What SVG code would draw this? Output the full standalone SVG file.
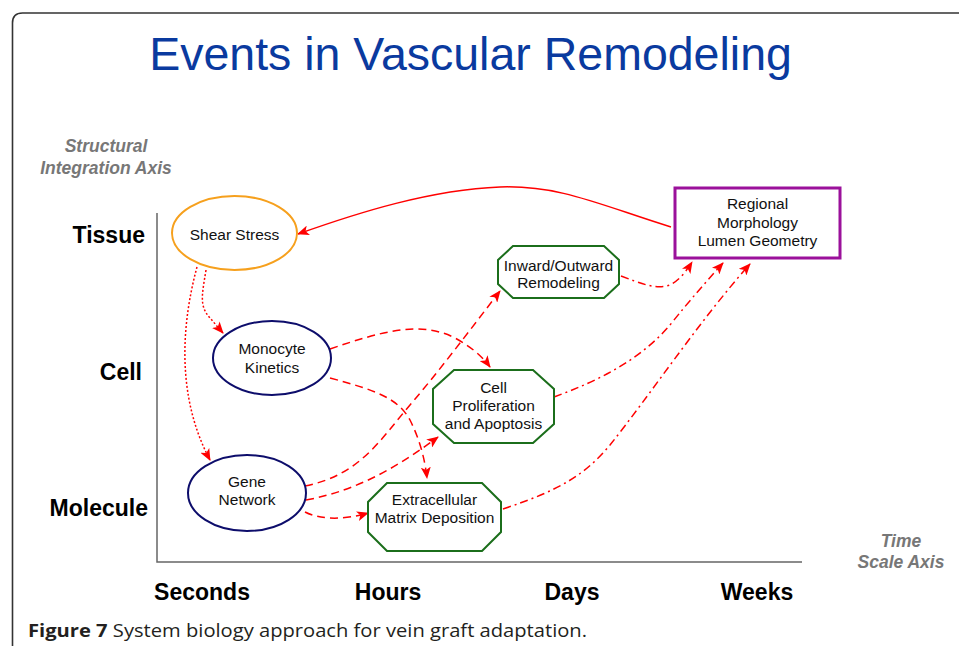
<svg xmlns="http://www.w3.org/2000/svg" width="959" height="646" viewBox="0 0 959 646">
<defs>
<style>
.frame{fill:none;stroke:#333;stroke-width:1.6}
.axis{fill:none;stroke:#666;stroke-width:1.5}
.title{font-family:"Liberation Sans",Arial,sans-serif;font-size:46.5px;fill:#0a3a9f}
.axlab{font-family:"Liberation Sans",Arial,sans-serif;font-size:17.5px;font-weight:bold;font-style:italic;fill:#777}
.lvl{font-family:"Liberation Sans",Arial,sans-serif;font-size:23px;font-weight:bold;fill:#000}
.nt{font-family:"Liberation Sans",Arial,sans-serif;font-size:15.5px;fill:#111;text-anchor:middle}
.cap{font-family:"Open Sans","Liberation Sans",sans-serif;font-size:17.5px;fill:#231f20}
.orange{fill:#fff;stroke:#f6a01d;stroke-width:2}
.navy{fill:#fff;stroke:#0d0d6b;stroke-width:2}
.green{fill:#fff;stroke:#1b6e1b;stroke-width:2}
.purple{fill:#fff;stroke:#9b119b;stroke-width:3}
.c{fill:none;stroke:#ff0000;stroke-width:1.5}
.solid{marker-end:url(#arr)}
.dot{stroke-dasharray:2 2;marker-end:url(#arr)}
.dash{stroke-dasharray:8 5;marker-end:url(#arr)}
.dd{stroke-dasharray:8 4 2 4;marker-end:url(#arr)}
</style>
<marker id="arr" viewBox="0 0 12 10" refX="11" refY="5" markerWidth="12" markerHeight="10" orient="auto" markerUnits="userSpaceOnUse">
<path d="M0,0 L12,5 L0,10 L3,5 z" fill="#ff0000" stroke="none"/>
</marker>
</defs>
<rect width="959" height="646" fill="#fff"/>
<path class="frame" d="M12.5,646 L12.5,23 Q12.5,13 22.5,13 L959,13"/>
<text class="title" x="470.5" y="70" text-anchor="middle">Events in Vascular Remodeling</text>
<text class="axlab" text-anchor="middle"><tspan x="106" y="152">Structural</tspan><tspan x="106" y="174">Integration Axis</tspan></text>
<text class="axlab" text-anchor="middle"><tspan x="901" y="547">Time</tspan><tspan x="901" y="568">Scale Axis</tspan></text>
<path class="axis" d="M157,213 L157,562 L802,562"/>
<text class="lvl" x="145" y="243" text-anchor="end">Tissue</text>
<text class="lvl" x="142" y="380" text-anchor="end">Cell</text>
<text class="lvl" x="148" y="516" text-anchor="end">Molecule</text>
<text class="lvl" x="202" y="600" text-anchor="middle">Seconds</text>
<text class="lvl" x="388" y="600" text-anchor="middle">Hours</text>
<text class="lvl" x="572" y="600" text-anchor="middle">Days</text>
<text class="lvl" x="757" y="600" text-anchor="middle">Weeks</text>
<text class="cap" x="28" y="637" textLength="559" lengthAdjust="spacingAndGlyphs"><tspan font-weight="bold">Figure 7</tspan> System biology approach for vein graft adaptation.</text>

<g id="connectors">
<path class="c solid" d="M671,227 C600,205 560,185 500,187 C430,190 360,212 298,234"/>
<path class="c dot" d="M206,270 C202,295 199,306 210,318 L223,333"/>
<path class="c dot" d="M197,267 C180,330 178,400 210,460"/>
<path class="c dash" d="M330,349 C380,332 420,320 455,338 C470,346 482,356 490,367"/>
<path class="c dash" d="M330,378 C375,390 398,398 410,420 C420,440 425,460 427,478"/>
<path class="c dash" d="M305,486 C360,475 380,440 410,405 C440,370 470,330 500,291"/>
<path class="c dash" d="M306,500 C360,490 400,465 438,437"/>
<path class="c dash" d="M305,512 C320,520 345,520 368,513"/>
<path class="c dd" d="M621,276 C640,283 655,290 670,285 C680,280 687,270 692,262"/>
<path class="c dd" d="M554,397 C600,380 640,360 670,325 C690,300 705,283 723,263"/>
<path class="c dd" d="M503,509 C560,490 585,475 610,445 C650,395 700,320 750,264"/>
</g>

<g id="shear-stress">
<ellipse class="orange" cx="234.5" cy="233" rx="62.5" ry="37"/>
<text class="nt" x="234.5" y="240" font-size="16">Shear Stress</text>
</g>
<g id="monocyte-kinetics">
<ellipse class="navy" cx="272" cy="358" rx="59" ry="37"/>
<text class="nt"><tspan x="272" y="354">Monocyte</tspan><tspan x="272" y="373">Kinetics</tspan></text>
</g>
<g id="gene-network">
<ellipse class="navy" cx="247" cy="493" rx="59" ry="38"/>
<text class="nt"><tspan x="247" y="487">Gene</tspan><tspan x="247" y="505">Network</tspan></text>
</g>
<g id="inward-outward">
<polygon class="green" points="513,246 604,246 619,260 619,284 604,298 513,298 498,284 498,260"/>
<text class="nt"><tspan x="558.5" y="271">Inward/Outward</tspan><tspan x="558.5" y="288">Remodeling</tspan></text>
</g>
<g id="cell-proliferation">
<polygon class="green" points="454,370 533,370 554,389 554,424 533,443 454,443 433,424 433,389"/>
<text class="nt"><tspan x="493.5" y="393">Cell</tspan><tspan x="493.5" y="411">Proliferation</tspan><tspan x="493.5" y="429">and Apoptosis</tspan></text>
</g>
<g id="extracellular-matrix">
<polygon class="green" points="387,483 482,483 501,502 501,532 482,551 387,551 368,532 368,502"/>
<text class="nt"><tspan x="434.5" y="505">Extracellular</tspan><tspan x="434.5" y="523">Matrix Deposition</tspan></text>
</g>
<g id="regional-morphology">
<rect class="purple" x="675" y="188" width="165" height="70"/>
<text class="nt"><tspan x="757.5" y="209">Regional</tspan><tspan x="757.5" y="228">Morphology</tspan><tspan x="757.5" y="246">Lumen Geometry</tspan></text>
</g>
</svg>
